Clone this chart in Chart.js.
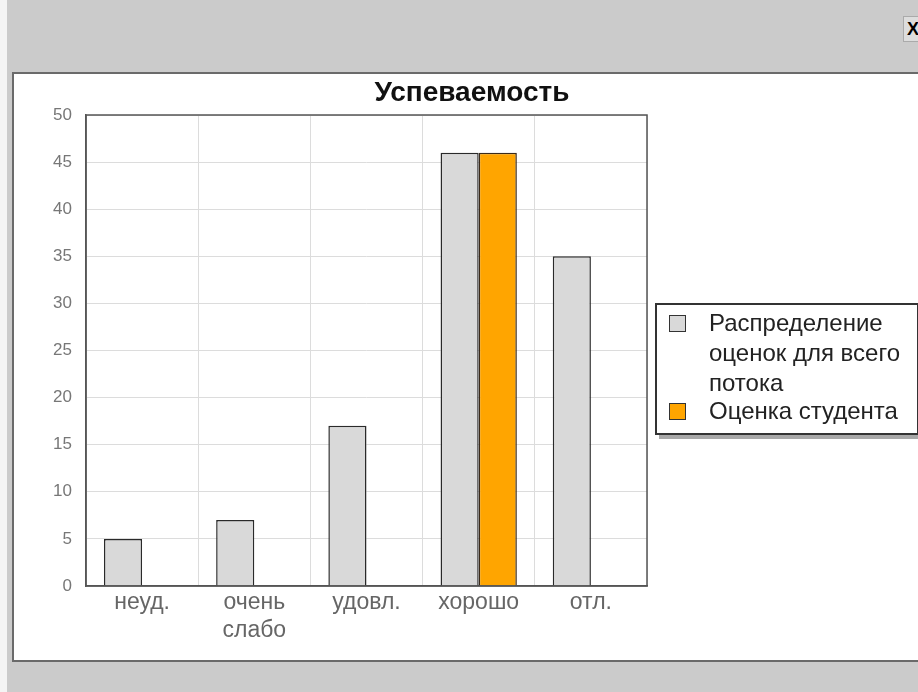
<!DOCTYPE html>
<html>
<head>
<meta charset="utf-8">
<script src="https://cdn.jsdelivr.net/npm/chart.js@4"></script>
<style>
  body { margin: 0; width: 918px; height: 692px; background: #cbcbcb; position: relative; overflow: hidden; font-family: "Liberation Sans", Arial, sans-serif; }
  #strip { position: absolute; left: 0; top: 0; width: 7px; height: 692px; background: #f4f4f4; }
  #panel { position: absolute; left: 12px; top: 72px; width: 910px; height: 590px; background: #fff; border-top: 2px solid #6a6a6a; border-left: 2px solid #6a6a6a; border-bottom: 2px solid #6a6a6a; box-sizing: border-box; }
  #wrap { position: absolute; left: 13px; top: 74px; width: 905px; height: 588px; }
  #title { position: absolute; left: 272px; width: 400px; top: 76px; text-align: center; font-weight: bold; font-size: 28px; color: #111; }
  #close { position: absolute; left: 903px; top: 16px; width: 20px; height: 24px; background: #ddd; border: 1px solid #aaa; font-size: 18px; font-weight: bold; line-height: 24px; padding-left: 3px; }
  #legend { position: absolute; left: 655px; top: 303px; width: 264px; height: 132px; border: 2px solid #333; box-sizing: border-box; background: #fff; box-shadow: 4px 4px 0 #a8a8a8; font-size: 24px; color: #222; }
  .item { position: absolute; left: 52px; line-height: 30px; white-space: nowrap; }
  .sw { position: absolute; left: 12px; width: 15px; height: 15px; border: 1.5px solid #333; }
</style>
</head>
<body>
<div id="strip"></div>
<div id="close">X</div>
<div id="panel"></div>
<div id="wrap"><canvas id="chart"></canvas></div>
<div id="title">Успеваемость</div>
<div id="legend"></div>
<script>
// оценки и значения
const categories = ["неуд.", ["очень", "слабо"], "удовл.", "хорошо", "отл."];
const streamValues = [5, 7, 17, 46, 35];
const studentValues = [null, null, null, 46, null];
const seriesNames = [["Распределение", "оценок для всего", "потока"], ["Оценка студента"]];
const seriesColors = ["#d9d9d9", "#ffa500"];

function buildChart() {
  const chartData = {
    labels: categories,
    datasets: [
      {
        label: seriesNames[0].join(" "),
        data: streamValues,
        backgroundColor: seriesColors[0],
        borderColor: "#2a2a2a",
        borderWidth: 1.5,
      },
      {
        label: seriesNames[1].join(" "),
        data: studentValues,
        backgroundColor: seriesColors[1],
        borderColor: "#3a2a1a",
        borderWidth: 1.5,
      },
    ],
  };

  const options = {
    responsive: false,
    maintainAspectRatio: false,
    animation: false,
    layout: { padding: { left: 13, right: 271, top: 41, bottom: 0 } },
    datasets: { bar: { categoryPercentage: 0.68, barPercentage: 1 } },
    plugins: {
      legend: { display: false },
      title: { display: false },
      tooltip: { enabled: false },
    },
    scales: {
      x: {
        grid: { color: "#dcdcdc", drawTicks: false, offset: true },
        border: { color: "#555", width: 1.5 },
        ticks: { color: "#666", font: { family: "Liberation Sans", size: 23 }, padding: 3, maxRotation: 0 },
        afterFit: (scale) => { scale.height = 76; },
      },
      y: {
        min: 0,
        max: 50,
        grid: { color: "#dcdcdc", drawTicks: false },
        border: { color: "#555", width: 1.5 },
        ticks: { stepSize: 5, color: "#777", font: { family: "Liberation Sans", size: 17 }, padding: 14 },
        afterFit: (scale) => { scale.width = 60; },
      },
    },
  };

  // рамка вокруг области графика
  const frame = {
    id: "frame",
    afterDraw(chart) {
      const a = chart.chartArea;
      const ctx = chart.ctx;
      ctx.save();
      ctx.strokeStyle = "#555";
      ctx.lineWidth = 1.5;
      ctx.strokeRect(a.left, a.top, a.right - a.left, a.bottom - a.top);
      ctx.restore();
    },
  };

  const canvas = document.getElementById("chart");
  canvas.width = 905;
  canvas.height = 588;
  new Chart(canvas.getContext("2d"), {
    type: "bar",
    data: chartData,
    options: options,
    plugins: [frame],
  });
}

function buildLegend() {
  const legend = document.getElementById("legend");
  const tops = [3, 91];
  seriesNames.forEach((lines, i) => {
    const sw = document.createElement("div");
    sw.className = "sw";
    sw.style.top = tops[i] + 7 + "px";
    sw.style.background = seriesColors[i];
    legend.appendChild(sw);
    const item = document.createElement("div");
    item.className = "item";
    item.style.top = tops[i] + "px";
    item.innerHTML = lines.join("<br>");
    legend.appendChild(item);
  });
}

buildChart();
buildLegend();
</script>
</body>
</html>
